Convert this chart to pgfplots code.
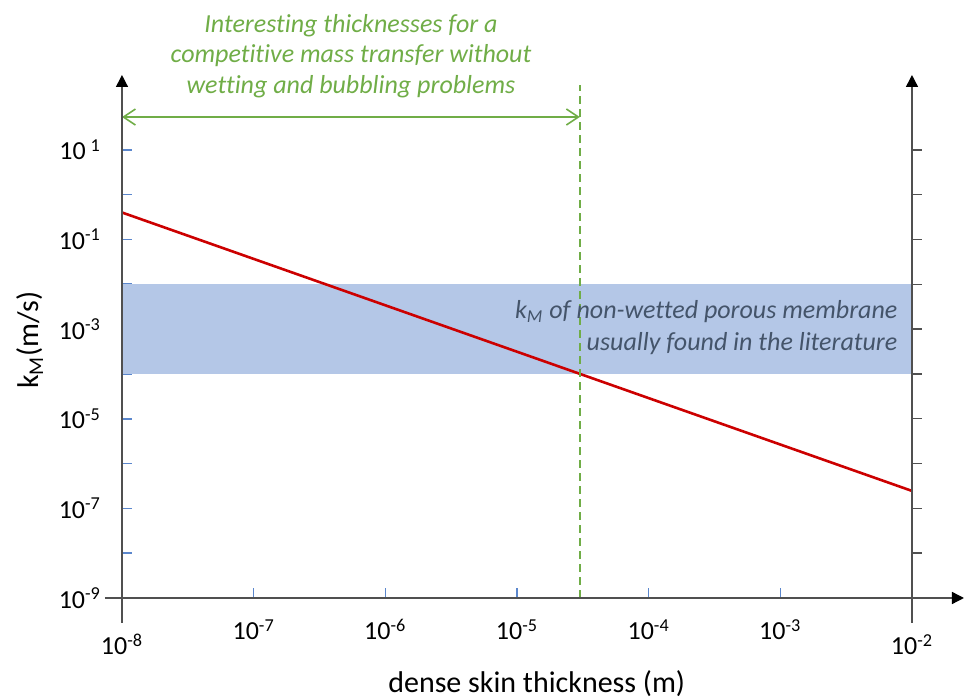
\documentclass[border=0pt]{standalone}
\usepackage{fontspec}
\setmainfont{Carlito}[Ligatures=NoCommon]
\usepackage{pgfplots}
\pgfplotsset{compat=1.18}
\usetikzlibrary{arrows.meta}

\definecolor{kred}{RGB}{204,0,0}
\definecolor{bandblue}{RGB}{180,199,231}
\definecolor{tickblue}{RGB}{91,135,205}
\definecolor{annogreen}{RGB}{112,173,71}
\definecolor{slate}{RGB}{68,84,106}
\definecolor{axisgray}{RGB}{80,80,80}
\newcommand\pw[1]{10\textsuperscript{#1}}

\begin{document}
\begin{tikzpicture}
\useasboundingbox (-61pt,-50.5pt) rectangle (421.5pt,299pt);

% right-hand scale: plain outward ticks, no labels
\begin{axis}[
  at={(0,0)}, anchor=south west,
  scale only axis, width=395pt, height=261.5pt,
  xmode=log, ymode=log,
  xmin=1e-8, xmax=1e-2, ymin=1e-9, ymax=467.7,
  axis line style={draw=none},
  minor tick style={draw=none},
  major tick length=5pt,
  xtick=\empty,
  ytick={1e-8,1e-7,1e-6,1e-5,1e-4,1e-3,1e-2,1e-1,1e0,1e1},
  yticklabels={},
  ytick pos=right, tick align=outside,
  major tick style={axisgray, line width=0.7pt},
]
\end{axis}

\begin{axis}[
  at={(0,0)}, anchor=south west,
  scale only axis, width=395pt, height=261.5pt,
  xmode=log, ymode=log,
  xmin=1e-8, xmax=1e-2, ymin=1e-9, ymax=467.7,
  axis line style={draw=none},
  minor tick style={draw=none},
  major tick length=5pt,
  clip=false,
  xtick={1e-8,1e-7,1e-6,1e-5,1e-4,1e-3,1e-2},
  xticklabels={\raisebox{-7.5pt}{\pw{-8}},\pw{-7},\pw{-6},\pw{-5},\pw{-4},\pw{-3},\raisebox{-7.5pt}{\pw{-2}}},
  ytick={1e-9,1e-8,1e-7,1e-6,1e-5,1e-4,1e-3,1e-2,1e-1,1e0,1e1},
  yticklabels={\pw{-9}\hspace{6pt},,\pw{-7},,\pw{-5},,\pw{-3},,\pw{-1},,10\hspace{2.5pt}\textsuperscript{1}},
  xtick pos=bottom, ytick pos=left, tick align=inside,
  major tick style={tickblue, line width=0.8pt},
  tick label style={font=\fontsize{13}{15}\selectfont, text=black},
  xticklabel style={anchor=base, yshift=-21pt},
  yticklabel style={anchor=east, xshift=-7pt},
  xlabel={dense skin thickness (m)},
  ylabel={k\textsubscript{M}(m/s)},
  every axis x label/.style={at={(rel axis cs:0.525,0)}, anchor=base, yshift=-47.5pt, font=\fontsize{15}{18}\selectfont},
  every axis y label/.style={at={([xshift=-46pt]rel axis cs:0,0.4933)}, rotate=90, anchor=center, font=\fontsize{15}{18}\selectfont},
]
% usual k_M range of non-wetted porous membranes
\addplot[fill=bandblue, draw=none] coordinates {(1e-8,1e-4) (1e-2,1e-4) (1e-2,1e-2) (1e-8,1e-2)} -- cycle;

% dense skin mass transfer coefficient
\addplot[kred, line width=1.3pt] coordinates {(1e-8,0.4) (1e-2,2.45e-7)};

% limiting thickness
\addplot[annogreen, line width=1pt, dash pattern=on 4pt off 2.5pt] coordinates {(3e-5,1e-9) (3e-5,275)};
\addplot[annogreen, line width=0.8pt, {Straight Barb[length=6pt,width=8pt]}-{Straight Barb[length=6pt,width=8pt]}] coordinates {(1e-8,54) (3e-5,54)};

% axis lines
\draw[axisgray, line width=0.7pt, -{Triangle[length=6pt,width=6pt,color=black]}]
  ([yshift=-12.5pt]rel axis cs:0,0) -- (rel axis cs:0,1);
\draw[axisgray, line width=0.7pt, -{Triangle[length=6pt,width=6pt,color=black]}]
  ([yshift=-12.5pt]rel axis cs:1,0) -- (rel axis cs:1,1);
\draw[axisgray, line width=0.7pt, -{Triangle[length=6pt,width=6pt,color=black]}]
  ([xshift=-8.5pt]rel axis cs:0,0) -- ([xshift=26pt]rel axis cs:1,0);

% annotations
\begin{scope}[every node/.style={anchor=base east, inner sep=0pt, text=slate, font=\fontsize{13}{15}\selectfont\itshape}]
\node at (rel axis cs:0.982,0.5335) {k\textsubscript{M} of non-wetted porous membrane};
\node at (rel axis cs:0.982,0.4723) {usually found in the literature};
\end{scope}
\begin{scope}[every node/.style={anchor=base, inner sep=0pt, text=annogreen, font=\fontsize{13}{15}\selectfont\itshape}]
\node at (rel axis cs:0.2899,1.082) {Interesting thicknesses for a};
\node at (rel axis cs:0.2899,1.023) {competitive mass transfer without};
\node at (rel axis cs:0.2899,0.9637) {wetting and bubbling problems};
\end{scope}
\end{axis}
\end{tikzpicture}
\end{document}
